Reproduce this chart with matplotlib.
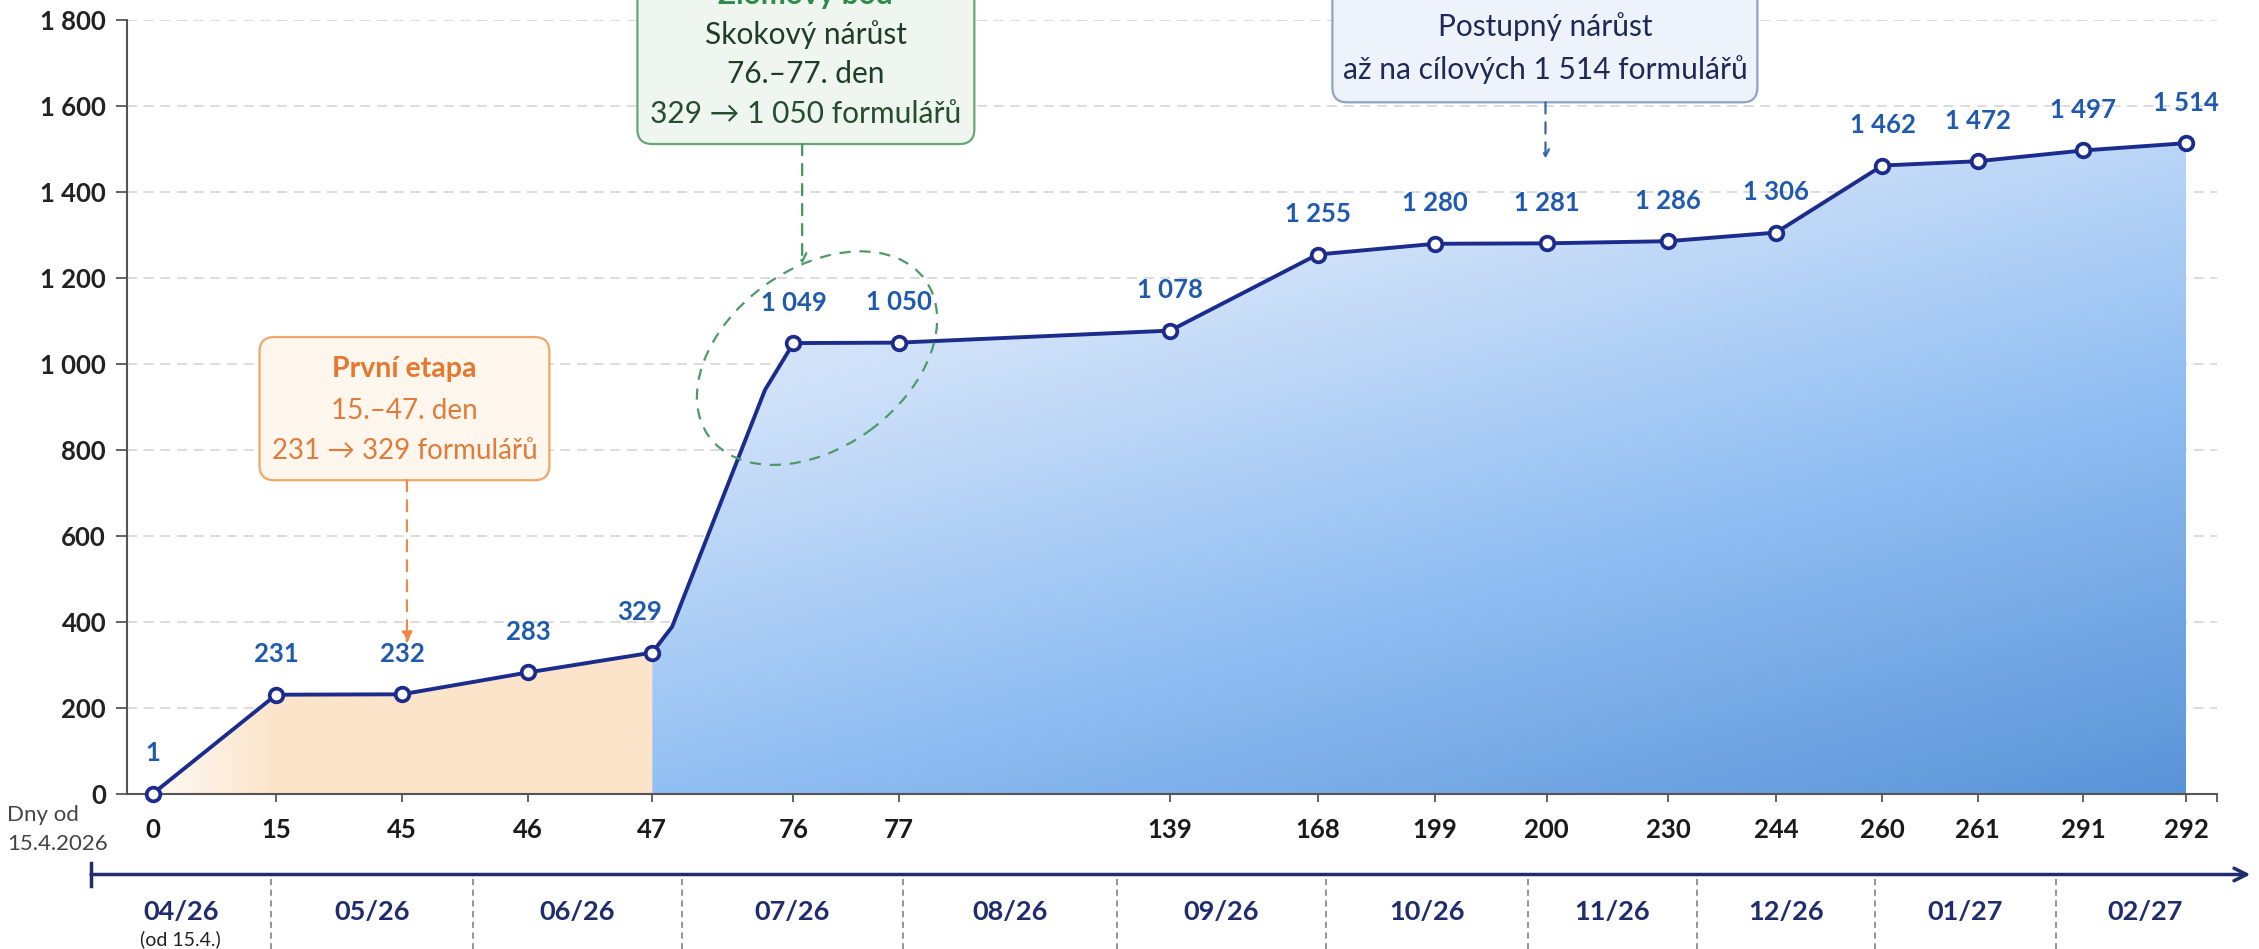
import matplotlib
matplotlib.use("Agg")
import matplotlib.pyplot as plt
import numpy as np
from matplotlib.colors import LinearSegmentedColormap, to_rgb
from matplotlib.patches import FancyBboxPatch, Ellipse
from matplotlib.transforms import ScaledTranslation

plt.rcParams["font.family"] = ["Lato", "DejaVu Sans"]

# days since 15.4.2026 and number of forms
days = [0, 15, 45, 46, 47, 76, 77, 139, 168, 199, 200, 230, 244, 260, 261, 291, 292]
forms = [1, 231, 232, 283, 329, 1049, 1050, 1078, 1255, 1280, 1281, 1286, 1306, 1462, 1472, 1497, 1514]
# where each day sits on the (non linear) horizontal axis
day_pos = [0, 0.995, 2.01, 3.03, 4.03, 5.17, 6.02, 8.21, 9.40, 10.35, 11.25,
           12.23, 13.10, 13.96, 14.73, 15.58, 16.41]

# bends of the line during the jump between day 47 and day 76
jump_pos = [4.19, 4.94]
jump_forms = [389, 940]

months = ["04/26", "05/26", "06/26", "07/26", "08/26", "09/26", "10/26",
          "11/26", "12/26", "01/27", "02/27"]
month_edges = [-0.50, 0.95, 2.58, 4.27, 6.05, 7.78, 9.47, 11.10, 12.46, 13.90, 15.36, 16.80]

y_ticks = list(range(0, 1801, 200))

NAVY = "#1C2C8C"
LABEL_BLUE = "#1F5AAE"
MONTH_NAVY = "#1F2D6E"


def fmt(v):
    return f"{v:,}".replace(",", " ")


fig = plt.figure(figsize=(22.59, 9.49), dpi=100)
ax = fig.add_axes([0.0562, 0.1633, 0.9252, 0.8154])

x_line = day_pos[:5] + jump_pos + day_pos[5:]
y_line = forms[:5] + jump_forms + forms[5:]

# orange area (0 - 47), fades in from the left
poly_o = ax.fill_between(x_line[:5], y_line[:5], 0, color="none", lw=0)
u = np.clip(np.linspace(0, x_line[4], 400) / 1.0, 0, 1)
c0, c1 = np.array(to_rgb("#FFFAF5")), np.array(to_rgb("#FCE4CA"))
img_o = np.tile((c0 + (c1 - c0) * u[:, None])[None, :, :], (2, 1, 1))
im = ax.imshow(img_o, extent=[x_line[0], x_line[4], 0, 1800], origin="lower",
               aspect="auto", zorder=1, interpolation="bilinear")
im.set_clip_path(poly_o.get_paths()[0], ax.transData)

# blue area (47 - 292), diagonal gradient
poly_b = ax.fill_between(x_line[4:], y_line[4:], 0, color="none", lw=0)
cmap = LinearSegmentedColormap.from_list(
    "bl", [(0, "#EAF2FD"), (0.35, "#CFE1F9"), (0.65, "#92BFF3"), (1, "#5A94D8")])
gx, gy = np.meshgrid(np.linspace(0, 1, 400), np.linspace(0, 1, 300))
t = np.clip(0.35 * gx + 0.65 * (1 - gy), 0, 1)
im = ax.imshow(cmap(t), extent=[x_line[4], x_line[-1], 0, 1800], origin="lower",
               aspect="auto", zorder=1, interpolation="bilinear")
im.set_clip_path(poly_b.get_paths()[0], ax.transData)

ax.plot(x_line, y_line, color=NAVY, lw=2.8, zorder=4, solid_joinstyle="round")
ax.plot(day_pos, forms, "o", ms=9.8, mfc="white", mec=NAVY, mew=2.7, zorder=5, clip_on=False)

for x, v in zip(day_pos, forms):
    dx = -9 if v == 329 else 0
    ax.annotate(fmt(v), (x, v), xytext=(dx, 29), textcoords="offset points",
                ha="center", va="center", fontsize=18.5, fontweight="bold",
                color=LABEL_BLUE, zorder=6)

# axes styling
ax.set_xlim(-0.21, 16.66)
ax.set_ylim(0, 1800)
ax.set_yticks(y_ticks, labels=[fmt(v) for v in y_ticks])
ax.set_xticks(day_pos, labels=[str(d) for d in days])
ax.set_xticks([16.66], minor=True)
ax.yaxis.grid(True, linestyle=(0, (6, 4)), color="#D6D6D6", lw=1.2)
ax.set_axisbelow(True)
for s in ["top", "right"]:
    ax.spines[s].set_visible(False)
for s in ["left", "bottom"]:
    ax.spines[s].set_color("#555555")
    ax.spines[s].set_linewidth(1.5)
ax.tick_params(axis="y", length=8, width=1.3, color="#555555", pad=7,
               labelsize=18.5, labelcolor="#222222")
ax.tick_params(axis="x", which="both", length=6, width=1.3, color="#555555", pad=11,
               labelsize=18.5, labelcolor="#1A1A1A")
for lab in ax.get_xticklabels() + ax.get_yticklabels():
    lab.set_fontweight("bold")

fig.text(0.003, 1 - 815 / 949, "Dny od", fontsize=16, color="#444444", va="center")
fig.text(0.003, 1 - 844 / 949, "15.4.2026", fontsize=16, color="#444444", va="center")

# month axis below the day axis
tr = ax.get_xaxis_transform()
y_m = -0.104
ax.annotate("", xy=(16.93, y_m), xytext=(month_edges[0], y_m), xycoords=tr, textcoords=tr,
            annotation_clip=False,
            arrowprops=dict(arrowstyle="->,head_length=0.9,head_width=0.45", color=MONTH_NAVY,
                            lw=2.5, shrinkA=0, shrinkB=0))
ax.plot([month_edges[0]] * 2, [y_m + 0.015, y_m - 0.015], transform=tr, color=MONTH_NAVY,
        lw=2.5, clip_on=False)
for e in month_edges[1:-1]:
    ax.plot([e, e], [y_m - 0.006, -0.21], transform=tr, ls=(0, (4, 3)), color="#777777",
            lw=1.1, clip_on=False)
for i, m in enumerate(months):
    xc = (month_edges[i] + month_edges[i + 1]) / 2
    ax.text(xc, -0.152, m, transform=tr, ha="center", va="center", fontsize=19.5,
            fontweight="bold", color=MONTH_NAVY)
ax.text((month_edges[0] + month_edges[1]) / 2, -0.188, "(od 15.4.)", transform=tr,
        ha="center", va="center", fontsize=14, color="#222222")


# callout boxes
def box(x0, x1, y0, y1, face, edge):
    p = FancyBboxPatch((x0, y0), x1 - x0, y1 - y0, boxstyle="round,pad=0,rounding_size=0.12",
                       mutation_aspect=288, transform=ax.transData, fc=face, ec=edge,
                       lw=1.6, clip_on=False, zorder=7)
    ax.add_patch(p)


def arrow(x, y0, y1, color, style):
    ax.annotate("", xy=(x, y1), xytext=(x, y0), annotation_clip=False, zorder=7,
                arrowprops=dict(arrowstyle=style, color=color, lw=1.6, ls=(0, (5, 4)),
                                shrinkA=0, shrinkB=0))


# První etapa
box(0.86, 3.20, 730, 1063, "#FFF6EE", "#EFA66A")
ax.text(2.03, 988, "První etapa", ha="center", va="center", fontsize=20.5,
        fontweight="bold", color="#E8772E", zorder=8)
ax.text(2.03, 891, "15.–47. den", ha="center", va="center", fontsize=20, color="#E07B39", zorder=8)
ax.text(2.03, 798, "231 → 329 formulářů", ha="center", va="center", fontsize=20,
        color="#E07B39", zorder=8)
arrow(2.05, 730, 349, "#EE8A45", "-|>,head_length=0.7,head_width=0.3")

# Zlomový bod
box(3.91, 6.63, 1512, 2100, "#EEF6EF", "#6AA57A")
ax.text(5.27, 1858, "Zlomový bod", ha="center", va="center", fontsize=21.5,
        fontweight="bold", color="#2F8A4C", zorder=8)
ax.text(5.27, 1766, "Skokový nárůst", ha="center", va="center", fontsize=21.5, color="#1F3D25", zorder=8)
ax.text(5.27, 1675, "76.–77. den", ha="center", va="center", fontsize=21.5, color="#1F3D25", zorder=8)
ax.text(5.27, 1582, "329 → 1 050 formulářů", ha="center", va="center", fontsize=21.5,
        color="#234D2C", zorder=8)
arrow(5.24, 1512, 1233, "#3E9A55", "->,head_length=0.6,head_width=0.3")
etr = fig.dpi_scale_trans + ScaledTranslation(5.36, 1014, ax.transData)
ax.add_patch(Ellipse((0, 0), 2.67, 1.79, angle=36, fill=False, ls=(0, (5, 4)), ec="#4E9A66",
                     lw=1.6, transform=etr, zorder=6, clip_on=False))

# Druhá etapa
box(9.52, 12.95, 1609, 2100, "#EEF3FB", "#8EA3C8")
ax.text(11.24, 1879, "Druhá etapa", ha="center", va="center", fontsize=21.5,
        fontweight="bold", color="#2B6CC4", zorder=8)
ax.text(11.24, 1786, "Postupný nárůst", ha="center", va="center", fontsize=21.5, color="#1E2A55", zorder=8)
ax.text(11.24, 1686, "až na cílových 1 514 formulářů", ha="center", va="center", fontsize=21.5,
        color="#1E2A55", zorder=8)
arrow(11.24, 1609, 1478, "#3466B0", "->,head_length=0.5,head_width=0.25")

fig.savefig("out.png", dpi=100)
